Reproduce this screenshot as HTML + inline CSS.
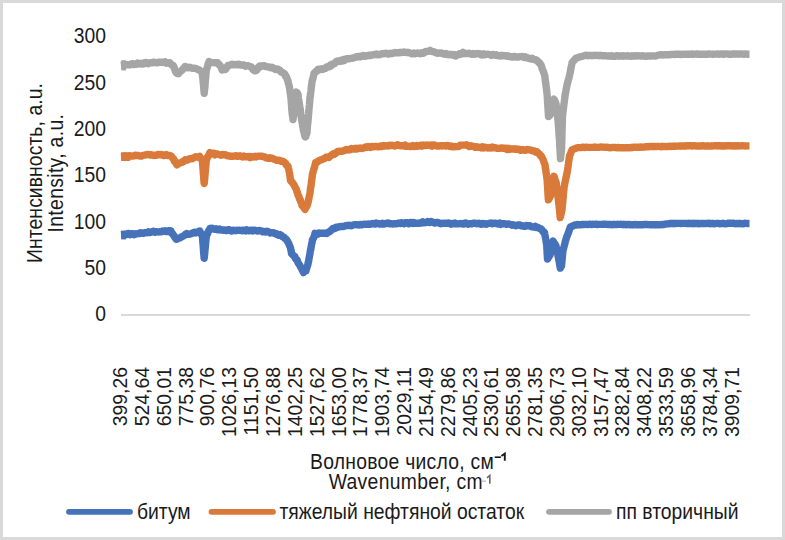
<!DOCTYPE html>
<html><head><meta charset="utf-8"><style>
html,body{margin:0;padding:0;background:#fff;}
body{width:785px;height:540px;overflow:hidden;position:relative;}
svg{position:absolute;left:0;top:0;}
text{font-family:"Liberation Sans",sans-serif;font-size:19.33px;fill:#1a1a1a;}
</style></head><body>
<svg width="785" height="540" viewBox="0 0 785 540">
<rect x="1.5" y="1.5" width="782" height="537" fill="#fff" stroke="#d9d9d9" stroke-width="3"/>
<line x1="121" y1="315" x2="750" y2="315" stroke="#d9d9d9" stroke-width="2"/>
<text transform="translate(106,43.20) scale(1,1.12)" text-anchor="end">300</text>
<text transform="translate(106,89.53) scale(1,1.12)" text-anchor="end">250</text>
<text transform="translate(106,135.86) scale(1,1.12)" text-anchor="end">200</text>
<text transform="translate(106,182.19) scale(1,1.12)" text-anchor="end">150</text>
<text transform="translate(106,228.52) scale(1,1.12)" text-anchor="end">100</text>
<text transform="translate(106,274.85) scale(1,1.12)" text-anchor="end">50</text>
<text transform="translate(106,321.18) scale(1,1.12)" text-anchor="end">0</text>
<text transform="translate(127.10,367) rotate(-90) scale(1,1.0)" text-anchor="end">399,26</text>
<text transform="translate(148.94,367) rotate(-90) scale(1,1.0)" text-anchor="end">524,64</text>
<text transform="translate(170.78,367) rotate(-90) scale(1,1.0)" text-anchor="end">650,01</text>
<text transform="translate(192.62,367) rotate(-90) scale(1,1.0)" text-anchor="end">775,38</text>
<text transform="translate(214.46,367) rotate(-90) scale(1,1.0)" text-anchor="end">900,76</text>
<text transform="translate(236.30,367) rotate(-90) scale(1,1.0)" text-anchor="end">1026,13</text>
<text transform="translate(258.14,367) rotate(-90) scale(1,1.0)" text-anchor="end">1151,50</text>
<text transform="translate(279.98,367) rotate(-90) scale(1,1.0)" text-anchor="end">1276,88</text>
<text transform="translate(301.82,367) rotate(-90) scale(1,1.0)" text-anchor="end">1402,25</text>
<text transform="translate(323.66,367) rotate(-90) scale(1,1.0)" text-anchor="end">1527,62</text>
<text transform="translate(345.50,367) rotate(-90) scale(1,1.0)" text-anchor="end">1653,00</text>
<text transform="translate(367.34,367) rotate(-90) scale(1,1.0)" text-anchor="end">1778,37</text>
<text transform="translate(389.18,367) rotate(-90) scale(1,1.0)" text-anchor="end">1903,74</text>
<text transform="translate(411.02,367) rotate(-90) scale(1,1.0)" text-anchor="end">2029,11</text>
<text transform="translate(432.86,367) rotate(-90) scale(1,1.0)" text-anchor="end">2154,49</text>
<text transform="translate(454.70,367) rotate(-90) scale(1,1.0)" text-anchor="end">2279,86</text>
<text transform="translate(476.54,367) rotate(-90) scale(1,1.0)" text-anchor="end">2405,23</text>
<text transform="translate(498.38,367) rotate(-90) scale(1,1.0)" text-anchor="end">2530,61</text>
<text transform="translate(520.22,367) rotate(-90) scale(1,1.0)" text-anchor="end">2655,98</text>
<text transform="translate(542.06,367) rotate(-90) scale(1,1.0)" text-anchor="end">2781,35</text>
<text transform="translate(563.90,367) rotate(-90) scale(1,1.0)" text-anchor="end">2906,73</text>
<text transform="translate(585.74,367) rotate(-90) scale(1,1.0)" text-anchor="end">3032,10</text>
<text transform="translate(607.58,367) rotate(-90) scale(1,1.0)" text-anchor="end">3157,47</text>
<text transform="translate(629.42,367) rotate(-90) scale(1,1.0)" text-anchor="end">3282,84</text>
<text transform="translate(651.26,367) rotate(-90) scale(1,1.0)" text-anchor="end">3408,22</text>
<text transform="translate(673.10,367) rotate(-90) scale(1,1.0)" text-anchor="end">3533,59</text>
<text transform="translate(694.94,367) rotate(-90) scale(1,1.0)" text-anchor="end">3658,96</text>
<text transform="translate(716.78,367) rotate(-90) scale(1,1.0)" text-anchor="end">3784,34</text>
<text transform="translate(738.62,367) rotate(-90) scale(1,1.0)" text-anchor="end">3909,71</text>
<text transform="translate(41.6,262.9) rotate(-90) scale(1,1.12)" textLength="179.8" lengthAdjust="spacing">Интенсивность, a.u.</text>
<text transform="translate(63,232.5) rotate(-90) scale(1,1.12)" textLength="118.4" lengthAdjust="spacing">Intensity, a.u.</text>
<text transform="translate(310,468.8) scale(1,1.12)" textLength="183.8" lengthAdjust="spacing">Волновое число, см</text>
<path d="M501.4,456 L504.8,453.6 L504.8,460.8" fill="none" stroke="#1a1a1a" stroke-width="1.9" stroke-linejoin="miter"/>
<rect x="494.7" y="456.4" width="6.2" height="1.6" fill="#1a1a1a"/>
<text transform="translate(328.7,489) scale(1,1.12)" textLength="153.9" lengthAdjust="spacing">Wavenumber, cm</text>
<path d="M487,477.8 L489.8,475.4 L489.8,483.8" fill="none" stroke="#6a6a6a" stroke-width="1.6" stroke-linejoin="miter"/>
<rect x="481.8" y="480.6" width="4.3" height="1" fill="#aaa"/>
<text transform="translate(137,519.2) scale(1,1.12)">битум</text>
<text transform="translate(279.5,519.2) scale(1,1.12)">тяжелый нефтяной остаток</text>
<text transform="translate(616,519.2) scale(1,1.12)">пп вторичный</text>
<polyline points="121.0,65.4 122.2,65.2 123.5,65.1 124.8,64.6 126.0,64.8 127.3,64.6 128.7,64.8 130.0,64.9 131.3,63.8 132.7,63.6 134.0,64.6 135.2,63.9 136.4,64.3 137.6,63.1 138.8,63.7 140.0,64.0 141.2,63.2 142.4,64.1 143.6,63.9 144.8,62.6 146.0,62.5 147.2,63.2 148.5,63.7 149.8,62.9 151.0,62.6 152.2,62.8 153.5,62.2 154.8,62.5 156.0,62.7 157.3,62.8 158.6,62.3 159.9,62.3 161.1,62.2 162.4,62.5 163.7,62.2 165.0,61.8 166.2,63.2 167.4,62.9 168.6,63.2 169.8,62.8 171.0,64.1 172.0,65.1 173.0,65.3 174.0,66.8 174.5,68.7 175.0,70.0 175.5,71.7 176.0,72.4 177.2,73.5 178.5,73.7 179.3,72.2 180.2,71.6 181.0,71.0 182.0,70.2 183.0,68.9 184.0,68.1 185.0,66.5 186.2,67.0 187.4,67.9 188.6,67.5 189.9,67.3 191.1,67.9 192.3,68.3 193.5,68.3 194.9,68.3 196.2,68.7 197.6,69.2 199.0,69.9 199.8,70.4 200.7,71.1 201.5,72.1 202.3,72.3 202.4,73.6 202.5,75.7 202.7,77.3 202.8,77.9 202.9,78.9 203.0,79.7 203.1,81.4 203.3,83.3 203.4,84.2 203.5,85.1 203.6,86.7 203.7,87.1 203.8,88.7 203.9,90.5 204.0,91.2 204.1,92.2 204.2,93.2 204.3,92.4 204.4,91.7 204.5,89.2 204.7,89.0 204.8,87.9 204.9,86.8 205.0,85.3 205.1,84.2 205.2,82.5 205.3,81.3 205.4,79.9 205.5,78.1 205.7,78.0 205.8,76.3 205.9,74.6 206.0,73.8 206.1,72.5 206.2,71.0 206.3,69.8 206.7,68.9 207.1,67.9 207.5,66.7 207.8,65.4 208.2,63.6 208.6,62.8 209.0,61.5 210.4,62.2 211.8,62.6 213.2,62.6 214.6,62.7 216.0,62.7 217.5,62.8 219.0,64.5 219.6,65.3 220.2,65.6 220.8,66.6 221.4,67.7 222.0,69.9 223.5,69.4 225.0,69.5 225.8,69.2 226.5,67.8 227.2,66.4 228.0,65.5 229.4,65.5 230.9,64.5 232.3,64.2 233.6,64.9 234.9,64.6 236.2,64.5 237.4,64.8 238.7,64.2 240.0,64.8 241.3,65.1 242.6,64.9 243.9,64.9 245.2,66.2 246.5,65.8 247.8,65.6 249.1,66.3 250.4,66.7 251.3,66.9 252.1,68.1 253.0,69.5 254.5,70.8 256.0,70.5 256.8,70.0 257.7,68.6 258.5,67.1 259.7,66.1 260.8,66.7 262.0,65.9 263.3,65.8 264.5,65.7 265.8,66.6 267.0,66.6 268.3,67.1 269.5,67.0 270.8,67.8 272.1,67.3 273.5,68.0 274.9,69.3 276.2,69.5 277.5,69.0 278.9,70.1 279.9,70.1 280.9,71.8 282.0,72.3 283.0,72.7 284.0,73.3 284.8,74.0 285.5,76.3 286.2,76.3 287.0,78.4 287.3,79.8 287.7,80.4 288.0,81.0 288.3,83.2 288.7,84.5 289.0,85.3 289.2,86.3 289.4,87.4 289.6,88.7 289.8,89.8 290.0,91.7 290.2,92.7 290.4,93.7 290.6,94.8 290.8,96.9 291.0,97.7 291.1,99.3 291.2,100.3 291.3,102.3 291.4,103.7 291.5,103.7 291.5,105.2 291.6,106.7 291.7,108.9 291.8,109.9 291.9,110.5 292.0,111.6 292.2,113.6 292.4,115.3 292.6,116.8 292.8,117.4 293.0,119.5 293.2,118.0 293.4,116.4 293.6,115.8 293.8,113.4 294.0,112.8 294.2,110.6 294.4,109.4 294.6,109.2 294.8,106.9 295.0,106.4 295.1,104.9 295.3,103.9 295.4,102.0 295.5,100.7 295.7,99.3 295.8,98.9 296.0,97.2 296.1,96.5 296.2,95.1 296.4,92.8 296.5,92.1 297.2,92.9 298.0,94.4 298.2,95.7 298.4,98.1 298.6,99.3 298.8,100.7 299.0,101.3 299.2,103.0 299.4,104.5 299.6,105.2 299.8,106.8 300.0,107.6 300.2,108.7 300.4,110.2 300.5,112.4 300.7,113.2 300.9,115.0 301.1,115.6 301.3,116.6 301.5,118.6 301.6,119.9 301.8,120.0 302.0,122.2 302.2,122.7 302.4,123.9 302.7,126.2 302.9,126.2 303.1,127.7 303.3,130.0 303.6,130.4 303.8,131.2 304.0,132.5 304.4,134.1 304.9,136.3 305.3,136.9 305.7,136.7 306.1,134.6 306.6,134.0 307.0,132.6 307.1,130.5 307.2,129.2 307.3,128.3 307.4,126.6 307.5,126.1 307.6,124.1 307.8,122.8 307.9,123.0 308.0,120.8 308.1,120.0 308.2,118.6 308.3,117.2 308.4,115.6 308.5,115.6 308.6,114.4 308.7,113.2 308.8,110.8 308.9,109.7 309.0,109.1 309.1,108.4 309.2,106.6 309.4,105.5 309.5,104.3 309.6,102.5 309.7,101.7 309.8,100.2 309.9,98.9 310.0,97.4 310.2,96.5 310.3,96.2 310.5,94.2 310.6,93.3 310.8,92.0 310.9,91.2 311.1,89.2 311.2,87.9 311.4,86.7 311.5,85.4 311.7,84.9 311.8,83.8 312.0,81.7 312.3,80.4 312.7,79.4 313.0,78.1 313.3,76.8 313.7,75.0 314.0,73.3 315.0,72.6 316.0,71.4 317.0,71.1 318.0,69.4 319.2,69.1 320.4,69.6 321.6,68.8 322.8,69.2 324.0,68.5 325.2,68.5 326.5,67.0 327.8,67.0 329.0,66.9 330.1,65.2 331.1,65.8 332.2,64.0 333.2,64.1 334.3,63.8 335.3,62.8 336.4,61.4 337.6,60.9 338.8,61.2 339.9,61.5 341.1,60.3 342.3,60.9 343.4,59.5 344.6,60.3 345.8,58.8 347.4,58.6 349.0,58.8 350.2,58.4 351.4,58.4 352.6,58.1 353.8,57.8 355.0,57.5 356.2,56.6 357.5,56.8 358.7,56.3 359.9,56.9 361.1,56.6 362.3,55.8 363.5,55.4 365.0,56.4 366.5,56.0 368.0,55.4 369.2,55.3 370.4,55.6 371.7,55.0 372.9,54.8 374.1,54.6 375.3,54.4 376.6,54.0 377.8,54.8 379.0,54.4 380.3,54.5 381.7,53.6 383.0,53.9 384.3,53.5 385.7,53.3 387.0,53.4 388.4,54.1 389.8,53.4 391.2,53.3 392.6,53.5 394.0,52.8 395.2,52.4 396.5,52.9 397.7,52.7 398.9,52.8 400.1,52.3 401.4,52.5 402.6,52.4 403.9,51.9 405.2,52.4 406.4,52.5 407.7,52.3 409.0,52.7 410.3,53.0 411.5,53.7 412.8,53.8 414.1,53.1 415.3,53.8 416.6,53.1 417.9,53.0 419.2,53.4 420.4,53.8 421.7,52.7 423.0,53.4 424.3,52.9 425.5,51.5 426.8,51.4 428.4,51.3 430.0,50.3 431.2,51.1 432.5,51.6 433.8,51.7 435.0,52.4 436.2,52.9 437.5,53.3 438.8,53.1 440.0,52.9 441.2,53.2 442.4,53.3 443.6,53.9 444.8,54.3 446.0,53.5 447.2,54.5 448.4,54.7 449.6,54.4 450.8,54.7 452.0,54.4 453.2,55.3 454.4,54.5 455.6,56.0 456.8,55.3 458.1,54.7 459.3,53.8 460.5,54.3 461.8,53.9 463.0,52.4 464.3,53.4 465.6,53.6 466.9,53.4 468.2,53.6 469.5,53.3 470.8,54.1 472.0,54.3 473.3,53.5 474.6,54.2 475.9,53.8 477.2,53.5 478.5,53.9 479.8,53.7 481.1,54.9 482.4,55.0 483.7,53.9 485.0,54.7 486.2,54.5 487.5,54.2 488.8,54.5 490.1,54.6 491.4,55.4 492.7,54.4 494.0,54.8 495.2,55.2 496.5,54.7 497.8,55.6 499.0,55.7 500.2,56.1 501.5,55.3 502.8,55.5 504.0,55.9 505.2,55.6 506.5,56.2 507.8,55.8 509.0,56.5 510.2,56.7 511.5,56.8 512.8,57.1 514.0,56.5 515.2,56.5 516.5,57.1 517.8,57.0 519.0,56.8 520.2,56.6 521.5,56.6 522.8,56.4 524.0,57.4 525.2,56.7 526.4,57.7 527.6,57.7 528.8,58.5 530.0,58.4 531.2,59.1 532.3,58.3 533.5,59.3 534.7,59.8 535.8,59.8 537.0,60.5 537.8,61.2 538.6,62.3 539.4,62.5 540.2,64.0 541.0,64.9 541.4,65.9 541.8,67.2 542.2,68.9 542.7,69.9 543.1,70.8 543.5,72.2 544.0,73.5 544.6,75.0 544.8,75.9 545.0,77.5 545.1,79.0 545.3,80.4 545.5,81.6 545.6,82.6 545.8,84.0 546.0,85.0 546.1,86.5 546.3,87.6 546.5,89.1 546.6,90.6 546.8,91.6 546.9,92.9 547.1,94.4 547.2,95.7 547.3,96.9 547.4,97.9 547.4,99.3 547.5,100.6 547.6,101.8 547.7,103.3 547.8,104.4 547.8,105.7 547.9,107.0 548.0,108.1 548.1,109.2 548.1,110.5 548.2,111.7 548.3,112.9 548.4,114.1 548.4,115.2 548.5,116.6 550.0,115.1 550.2,114.0 550.5,112.6 550.8,111.4 551.0,110.1 551.2,108.9 551.5,107.6 551.8,106.2 552.0,104.9 552.4,103.9 552.8,102.8 553.2,101.4 553.6,100.0 554.0,99.2 554.5,100.2 555.0,101.5 555.5,102.5 556.0,104.0 556.2,105.4 556.3,106.4 556.5,107.6 556.6,109.0 556.8,109.9 556.9,111.4 557.1,112.8 557.2,113.9 557.4,115.0 557.5,116.4 557.7,117.6 557.8,118.6 558.0,119.9 558.1,121.4 558.2,122.4 558.3,123.5 558.4,125.2 558.5,126.3 558.6,127.4 558.7,128.8 558.8,130.1 558.8,131.1 558.9,132.6 559.0,133.9 559.1,135.2 559.2,136.1 559.3,137.6 559.4,138.6 559.5,140.0 559.6,141.1 559.6,142.6 559.7,143.9 559.8,144.8 559.8,146.0 559.9,147.6 560.0,148.7 560.0,150.0 560.1,150.9 560.2,152.5 560.2,153.6 560.3,154.7 560.4,156.0 560.4,157.4 560.5,158.6 560.6,157.1 560.8,156.1 560.9,154.7 561.1,153.9 561.2,152.4 561.4,151.4 561.5,150.1 561.5,148.8 561.6,147.5 561.6,146.4 561.6,145.0 561.7,143.8 561.7,142.8 561.8,141.4 561.8,140.4 561.8,138.9 561.9,138.0 561.9,136.7 561.9,135.3 562.0,134.0 562.0,132.9 562.0,131.8 562.1,130.4 562.1,129.2 562.1,127.9 562.2,127.0 562.2,125.9 562.2,124.4 562.3,123.1 562.3,122.2 562.4,121.0 562.4,119.9 562.4,118.5 562.5,117.1 562.5,116.2 562.6,114.6 562.8,113.7 562.9,112.2 563.1,111.2 563.2,110.0 563.4,108.8 563.5,107.5 563.7,106.3 563.8,105.4 564.0,104.0 564.1,102.9 564.3,101.5 564.4,100.6 564.6,99.2 564.7,98.1 564.9,97.1 565.0,95.9 565.2,94.3 565.4,93.5 565.7,92.3 565.9,90.9 566.1,89.7 566.3,88.6 566.6,87.6 566.8,86.1 567.0,85.2 567.3,83.9 567.6,82.4 568.0,81.6 568.3,80.0 568.6,78.8 569.0,77.9 569.3,76.4 569.6,75.3 569.8,74.0 570.1,72.9 570.3,71.8 570.6,70.6 570.8,69.0 571.0,67.7 571.3,66.9 571.5,65.3 571.8,64.1 572.0,62.8 572.8,61.8 573.6,60.8 574.4,60.1 575.2,59.1 576.0,58.1 577.3,57.8 578.6,57.4 579.9,56.9 581.1,56.6 582.4,56.4 583.7,55.9 585.0,55.4 586.2,55.3 587.5,55.7 588.8,55.5 590.0,55.4 591.2,55.6 592.5,55.5 593.8,55.5 595.0,55.3 596.2,55.4 597.5,55.5 598.8,55.4 600.0,55.7 601.3,55.5 602.6,55.7 603.9,55.8 605.2,55.8 606.5,55.9 607.8,56.0 609.1,55.8 610.4,56.2 611.7,55.8 612.9,56.2 614.1,56.2 615.3,56.2 616.5,55.8 617.7,55.8 618.9,56.2 620.1,56.0 621.3,55.9 622.5,56.2 623.7,55.8 624.9,56.0 626.1,56.0 627.3,55.8 628.5,55.9 629.7,56.1 630.9,56.2 632.1,55.8 633.4,56.0 634.6,55.8 635.8,56.1 637.0,55.8 638.2,55.8 639.4,55.9 640.6,56.1 641.8,55.9 643.0,55.8 644.2,56.1 645.4,56.2 646.6,56.2 647.8,55.9 649.0,56.0 650.2,55.9 651.4,56.0 652.6,55.9 653.8,55.9 655.0,56.1 656.2,55.9 657.5,55.4 658.8,54.9 660.0,54.9 661.2,54.7 662.5,55.0 663.7,54.8 664.9,54.9 666.1,54.8 667.4,54.7 668.6,54.8 669.8,54.7 671.0,54.5 672.3,54.4 673.5,54.4 674.7,54.5 676.0,54.2 677.2,54.3 678.4,54.4 679.6,54.1 680.9,54.5 682.1,54.4 683.3,54.2 684.5,54.2 685.8,54.2 687.0,54.1 688.2,54.3 689.4,54.2 690.7,54.2 691.9,54.0 693.1,54.4 694.3,54.1 695.6,54.1 696.8,53.9 698.0,54.4 699.2,54.1 700.4,54.3 701.7,54.3 702.9,54.3 704.1,54.3 705.3,54.3 706.6,54.3 707.8,54.2 709.0,53.9 710.2,54.1 711.4,54.1 712.7,54.3 713.9,54.2 715.1,54.1 716.3,54.1 717.6,53.9 718.8,54.2 720.0,54.1 721.2,54.0 722.5,54.0 723.7,54.3 724.9,54.0 726.1,53.9 727.4,53.9 728.6,54.2 729.8,54.1 731.1,54.3 732.3,53.9 733.5,54.0 734.8,54.2 736.0,53.9 737.2,53.9 738.4,54.1 739.7,54.0 740.9,53.9 742.1,54.0 743.4,54.2 744.6,54.2 745.8,54.0 747.0,54.2 748.3,54.2 749.5,54.2" fill="none" stroke="#a5a5a5" stroke-width="7.4" stroke-linejoin="round"/>
<polyline points="121.0,156.9 122.3,156.8 123.6,156.7 124.9,156.0 126.2,156.9 127.5,156.6 128.8,156.4 130.1,155.8 131.4,156.1 132.7,156.0 134.0,155.8 135.3,155.2 136.6,155.5 137.9,155.4 139.2,155.8 140.5,156.1 141.8,156.0 143.1,155.3 144.4,155.1 145.7,154.8 147.0,154.5 148.3,154.4 149.6,155.1 150.9,154.8 152.2,154.9 153.5,155.6 154.8,155.1 156.1,155.2 157.4,154.7 158.7,154.4 160.0,154.9 161.2,154.5 162.5,155.0 163.8,155.6 165.0,155.1 166.2,154.5 167.4,155.6 168.6,155.6 169.8,155.5 171.0,155.9 171.8,156.9 172.7,158.2 173.5,158.8 174.2,160.8 174.9,161.8 175.6,161.8 176.3,163.8 177.0,164.8 178.5,163.7 180.0,163.0 181.1,162.4 182.2,162.4 183.2,161.1 184.3,161.0 185.4,159.7 186.7,160.1 187.9,159.8 189.2,158.8 190.5,158.6 191.8,158.8 193.1,158.2 194.3,157.5 195.6,156.8 197.0,156.9 198.3,157.3 199.7,156.4 200.6,158.5 201.4,158.6 202.3,160.6 202.4,161.0 202.5,163.1 202.6,164.0 202.7,165.0 202.8,166.3 202.9,167.7 203.0,168.9 203.1,169.7 203.2,170.8 203.3,172.5 203.4,174.4 203.5,175.2 203.6,175.7 203.7,178.0 203.8,179.2 203.9,180.7 204.0,181.0 204.1,183.1 204.2,183.4 204.3,182.9 204.4,181.1 204.5,179.8 204.7,179.4 204.8,177.0 204.9,176.3 205.0,175.5 205.1,173.4 205.2,172.1 205.3,171.8 205.4,169.9 205.5,169.1 205.7,166.8 205.8,166.1 205.9,164.5 206.0,164.0 206.1,161.9 206.2,161.9 206.3,159.3 206.9,159.2 207.5,157.0 208.1,156.2 208.7,155.8 209.3,153.7 209.9,152.6 211.1,153.5 212.3,153.4 213.6,153.2 214.8,154.8 216.0,153.9 217.3,153.9 218.5,154.4 219.8,154.9 221.1,155.2 222.4,154.4 223.6,154.9 224.9,154.6 226.2,155.3 227.5,155.8 228.7,155.9 230.0,156.3 231.2,156.1 232.5,156.4 233.8,156.2 235.0,156.0 236.2,155.7 237.5,156.4 238.8,156.0 240.0,155.8 241.2,156.4 242.5,157.0 243.8,156.1 245.0,156.8 246.2,156.6 247.5,156.9 248.8,156.4 250.0,157.6 251.2,156.6 252.5,157.1 253.7,156.8 254.9,156.2 256.1,156.9 257.4,156.3 258.6,156.1 259.8,156.1 261.0,156.2 262.3,156.1 263.5,156.8 264.8,156.9 266.0,157.8 267.3,158.1 268.6,158.4 269.9,157.7 271.1,158.2 272.4,158.3 273.7,159.1 274.9,159.5 276.2,160.1 277.5,160.4 278.7,160.1 280.0,160.7 281.2,161.4 282.5,161.2 283.8,161.8 285.0,162.9 285.8,163.5 286.5,165.3 287.2,165.6 288.0,166.4 288.3,167.8 288.6,169.0 288.9,170.2 289.2,171.8 289.5,173.0 289.7,174.1 289.9,176.0 290.1,176.8 290.3,179.2 290.5,180.6 291.3,181.5 292.2,182.2 293.0,183.5 293.6,184.7 294.2,185.1 294.8,186.7 295.4,187.9 296.0,188.6 296.4,189.6 296.9,191.7 297.3,192.2 297.7,193.6 298.1,195.3 298.6,196.0 299.0,196.7 299.4,198.8 299.9,199.1 300.3,199.8 300.7,201.8 301.1,202.2 301.6,203.6 302.0,205.5 302.8,206.4 303.5,206.6 304.2,208.3 305.0,209.4 305.6,208.4 306.2,206.8 306.9,206.2 307.5,204.4 307.8,203.5 308.0,202.4 308.2,202.0 308.5,199.6 308.8,199.4 309.0,197.4 309.2,196.7 309.5,195.2 309.8,194.1 310.0,193.4 310.2,191.6 310.3,189.9 310.5,188.7 310.7,187.3 310.8,187.2 311.0,185.6 311.2,184.8 311.3,183.1 311.5,180.9 311.7,180.6 311.8,179.5 312.0,178.1 312.2,176.5 312.3,175.1 312.5,173.9 312.8,173.2 313.2,171.2 313.5,170.4 313.8,169.1 314.2,168.5 314.5,167.1 314.8,166.0 315.2,164.7 315.5,162.7 316.6,162.0 317.7,161.7 318.8,160.7 319.8,160.2 320.9,159.9 322.0,159.6 323.3,158.7 324.7,158.6 326.0,157.2 327.3,157.1 328.7,157.6 330.0,156.0 331.1,155.7 332.1,154.5 333.2,153.8 334.3,154.3 335.3,153.7 336.4,152.5 337.7,151.5 338.9,151.4 340.2,151.1 341.4,151.4 342.7,151.1 344.0,150.5 345.2,150.3 346.5,149.4 347.7,149.7 349.0,150.0 350.3,149.6 351.5,148.5 352.8,149.0 354.1,149.1 355.3,148.3 356.6,149.1 357.9,148.3 359.1,148.5 360.4,147.9 361.7,148.6 362.9,148.2 364.2,147.7 365.5,147.0 366.7,147.3 368.0,146.5 369.3,147.2 370.5,147.5 371.8,146.4 373.1,146.8 374.3,146.6 375.6,146.4 376.9,146.7 378.1,146.9 379.4,146.5 380.7,146.0 381.9,146.6 383.2,145.6 384.5,146.1 385.7,145.8 387.0,145.9 388.3,146.0 389.6,145.1 390.9,145.6 392.2,145.3 393.5,145.6 394.8,146.0 396.1,145.5 397.4,144.7 398.7,145.3 400.0,145.6 401.3,145.9 402.6,145.7 403.8,146.0 405.1,145.0 406.4,146.4 407.7,146.2 409.0,146.1 410.2,146.6 411.5,146.6 412.8,145.6 414.1,146.6 415.3,146.4 416.6,145.5 417.9,146.2 419.2,145.9 420.4,145.3 421.7,146.1 423.0,145.0 424.3,145.6 425.5,145.3 426.8,145.0 428.1,145.4 429.3,145.3 430.6,145.0 431.9,146.1 433.1,144.9 434.4,144.9 435.7,145.6 436.9,146.1 438.2,145.9 439.5,146.1 440.7,145.7 442.0,146.0 443.3,145.6 444.6,145.6 445.9,146.0 447.2,145.5 448.5,145.6 449.8,146.6 451.1,145.9 452.4,146.8 453.7,146.9 455.0,146.5 456.3,146.6 457.6,146.6 458.9,146.5 460.1,145.2 461.4,145.1 462.7,145.1 464.0,145.1 465.2,145.0 466.5,144.8 467.8,145.7 469.0,146.5 470.2,145.8 471.5,146.3 472.8,146.2 474.0,146.5 475.2,147.3 476.5,146.7 477.8,147.3 479.0,147.3 480.2,147.4 481.4,148.0 482.6,146.8 483.9,147.9 485.1,147.2 486.3,147.7 487.5,148.0 488.7,147.8 489.9,147.5 491.1,148.1 492.4,147.1 493.6,147.9 494.8,147.6 496.0,147.8 497.2,148.4 498.4,148.4 499.6,148.3 500.9,148.0 502.1,148.0 503.3,148.4 504.5,148.2 505.7,148.3 506.9,149.4 508.1,148.3 509.4,149.4 510.6,148.9 511.8,149.0 513.0,149.0 514.2,148.8 515.4,149.3 516.6,149.0 517.8,149.4 519.0,149.3 520.2,150.2 521.4,150.2 522.6,149.6 523.8,149.9 525.0,150.4 526.4,149.7 527.8,149.5 529.2,149.9 530.6,149.9 532.0,150.7 533.2,150.7 534.4,151.1 535.6,152.1 536.8,151.7 538.0,152.9 538.8,153.6 539.6,154.2 540.4,155.7 541.2,155.9 542.0,157.5 542.6,158.9 543.1,159.6 543.7,161.2 544.2,162.9 544.8,163.9 545.0,165.2 545.2,166.2 545.3,167.5 545.5,168.6 545.7,169.9 545.9,170.8 546.0,172.2 546.2,173.4 546.4,174.5 546.6,175.7 546.7,176.8 546.9,178.4 547.1,179.3 547.2,180.6 547.3,182.0 547.3,182.9 547.4,184.5 547.5,185.3 547.6,186.4 547.6,187.8 547.7,189.0 547.8,190.5 547.9,191.7 547.9,192.9 548.0,193.9 548.1,195.2 548.2,196.2 548.2,197.7 548.3,198.7 548.4,199.9 549.1,198.7 549.8,197.2 550.5,195.9 550.7,194.9 550.9,193.2 551.1,191.9 551.3,190.7 551.5,189.4 551.7,188.2 551.9,186.8 552.1,185.5 552.3,184.2 552.5,182.9 552.8,181.8 553.1,180.3 553.4,179.0 553.7,177.9 554.0,176.3 554.5,177.7 555.0,179.4 555.5,180.6 556.0,182.1 556.2,183.1 556.4,184.6 556.5,186.0 556.7,187.0 556.9,188.5 557.1,189.7 557.3,190.9 557.5,192.4 557.6,193.4 557.8,194.7 558.0,196.1 558.1,197.2 558.3,198.7 558.4,199.9 558.5,201.1 558.7,202.4 558.8,203.9 559.0,205.1 559.1,206.3 559.2,207.4 559.4,208.7 559.5,210.0 559.6,211.0 559.7,212.3 559.9,214.0 560.0,214.8 560.1,216.5 560.2,217.6 560.5,216.5 560.8,214.8 561.1,213.7 561.4,212.6 561.7,211.0 562.0,209.8 562.1,208.7 562.2,207.4 562.3,206.2 562.4,205.2 562.6,203.7 562.7,203.0 562.8,201.6 562.9,200.1 563.0,199.3 563.1,197.8 563.2,196.7 563.3,195.5 563.4,194.1 563.5,193.1 563.7,191.6 563.8,190.5 563.9,189.6 564.0,188.4 564.1,187.0 564.3,185.9 564.6,184.8 564.8,183.2 565.1,182.2 565.3,180.9 565.6,179.7 565.8,178.5 566.1,177.3 566.3,176.1 566.6,174.9 566.8,173.8 567.1,172.8 567.3,171.7 567.5,170.5 567.7,169.2 567.8,167.9 568.0,166.8 568.2,165.3 568.4,164.0 568.5,163.1 568.7,161.8 568.9,160.4 569.1,159.3 569.2,158.0 569.4,156.9 569.6,155.7 570.1,154.5 570.6,153.6 571.0,152.4 571.5,151.2 572.0,150.0 573.3,149.2 574.7,148.8 576.0,148.2 577.5,147.6 579.0,147.6 580.2,147.6 581.5,147.5 582.7,147.2 583.9,147.5 585.2,147.3 586.4,147.2 587.6,147.4 588.9,147.4 590.1,147.4 591.4,147.4 592.6,147.4 593.8,147.3 595.1,147.0 596.3,147.4 597.5,147.4 598.8,147.4 600.0,147.2 601.2,147.0 602.5,147.1 603.7,147.1 604.9,147.4 606.1,147.4 607.4,147.2 608.6,147.6 609.8,147.7 611.0,147.6 612.3,147.5 613.5,147.4 614.7,147.4 616.0,147.7 617.2,147.7 618.4,147.5 619.6,147.8 620.9,147.7 622.1,147.6 623.3,147.7 624.5,147.9 625.8,147.8 627.0,147.9 628.2,147.6 629.4,147.8 630.6,147.5 631.8,147.7 633.1,147.3 634.3,147.3 635.5,147.4 636.7,147.2 637.9,147.2 639.1,147.4 640.3,147.0 641.5,147.2 642.7,147.1 643.9,147.1 645.2,146.8 646.4,146.8 647.6,146.7 648.8,146.7 650.0,146.5 651.2,146.4 652.5,146.6 653.8,146.4 655.0,146.5 656.2,146.6 657.5,146.4 658.8,146.4 660.0,146.6 661.2,146.7 662.5,146.3 663.8,146.5 665.0,146.5 666.2,146.6 667.5,146.5 668.8,146.3 670.0,146.3 671.2,146.5 672.4,146.2 673.6,146.1 674.9,146.4 676.1,146.1 677.3,146.1 678.5,146.1 679.7,146.0 680.9,146.2 682.1,146.0 683.4,146.0 684.6,145.9 685.8,146.1 687.0,145.7 688.2,145.9 689.4,145.7 690.6,145.7 691.8,146.0 693.0,145.8 694.2,145.7 695.4,145.9 696.6,146.1 697.8,146.0 699.0,145.9 700.2,146.0 701.4,146.1 702.6,145.7 703.8,145.8 705.0,146.1 706.2,146.1 707.4,145.8 708.6,146.0 709.8,146.1 711.0,145.9 712.2,146.0 713.4,145.9 714.6,145.8 715.8,145.8 717.0,145.7 718.2,146.0 719.5,145.7 720.7,146.0 721.9,145.8 723.1,145.9 724.3,146.1 725.5,145.8 726.7,145.9 727.9,145.8 729.1,145.8 730.3,145.8 731.5,145.9 732.7,146.1 733.9,145.7 735.1,146.1 736.3,146.0 737.5,145.7 738.7,146.0 739.9,145.9 741.1,145.9 742.3,145.7 743.5,145.9 744.7,145.9 745.9,146.0 747.1,145.9 748.3,145.9 749.5,145.9" fill="none" stroke="#d97a3a" stroke-width="7.4" stroke-linejoin="round"/>
<polyline points="121.0,234.7 122.3,234.6 123.6,234.5 124.9,234.6 126.2,234.6 127.5,233.7 128.8,233.5 130.1,234.6 131.4,233.7 132.7,233.6 134.0,234.6 135.3,233.7 136.6,234.1 137.9,233.4 139.2,233.5 140.5,232.7 141.8,233.2 143.1,233.4 144.4,232.7 145.7,232.9 147.0,232.6 148.3,231.7 149.6,232.6 150.9,232.2 152.2,231.7 153.5,231.2 154.8,232.3 156.1,231.7 157.4,231.9 158.7,232.0 160.0,231.7 161.2,231.9 162.5,231.0 163.8,231.4 165.0,230.8 166.2,231.6 167.4,231.6 168.6,230.6 169.8,230.7 171.0,230.9 171.8,233.2 172.7,233.7 173.5,235.2 174.2,235.8 174.8,237.3 175.5,238.2 176.2,239.3 177.6,238.9 179.0,238.1 180.1,237.9 181.1,237.0 182.2,236.7 183.3,236.0 184.3,235.5 185.4,234.4 186.7,233.5 187.9,234.3 189.2,234.2 190.5,233.9 191.8,233.2 193.1,233.1 194.3,232.2 195.6,232.9 197.0,232.2 198.3,231.6 199.7,231.0 200.6,233.2 201.4,234.6 202.3,234.4 202.4,236.7 202.5,237.4 202.6,238.3 202.7,239.7 202.8,241.6 202.9,243.0 203.0,243.1 203.1,245.2 203.2,245.6 203.3,247.8 203.4,248.5 203.5,250.5 203.6,252.0 203.7,252.6 203.8,254.6 203.9,254.9 204.0,255.8 204.1,257.9 204.2,258.3 204.3,257.3 204.4,256.3 204.5,255.3 204.7,253.4 204.8,251.9 204.9,251.8 205.0,249.7 205.1,249.4 205.2,248.0 205.4,246.0 205.5,244.9 205.6,243.7 205.7,242.6 205.8,241.2 205.9,239.9 206.1,238.7 206.2,237.9 206.3,236.0 206.9,234.7 207.5,233.8 208.1,231.9 208.7,230.7 209.3,230.4 209.9,228.5 211.1,228.7 212.3,228.2 213.6,228.9 214.8,229.3 216.0,228.7 217.2,229.7 218.4,229.8 219.6,229.1 220.8,230.0 222.0,229.9 223.2,230.3 224.4,229.9 225.6,230.5 226.8,230.6 228.0,229.7 229.3,229.8 230.6,230.7 231.9,231.1 233.1,230.2 234.4,230.5 235.7,230.7 237.0,230.3 238.2,230.4 239.4,230.3 240.6,230.4 241.8,230.7 243.0,230.3 244.2,230.4 245.4,231.0 246.6,229.9 247.8,230.7 249.0,230.9 250.2,230.3 251.4,230.2 252.6,231.0 253.8,230.2 255.0,230.2 256.3,230.6 257.6,231.1 258.9,230.4 260.2,230.8 261.5,231.0 262.8,231.8 264.1,231.4 265.4,232.1 266.7,231.2 268.0,231.6 269.2,232.3 270.4,233.0 271.6,232.7 272.8,232.7 274.0,232.9 275.2,233.8 276.4,233.6 277.6,234.8 278.8,235.2 280.0,234.6 281.3,235.4 282.7,236.8 284.0,237.2 284.8,238.4 285.6,238.8 286.4,239.5 287.2,240.7 288.0,242.4 288.5,242.9 289.0,244.2 289.5,245.5 290.0,246.7 290.5,247.9 290.8,249.8 291.0,250.0 291.2,251.1 291.5,253.6 292.8,254.8 294.0,256.2 294.8,256.5 295.5,258.4 296.2,259.5 297.0,259.6 297.6,261.5 298.1,262.8 298.7,263.7 299.3,264.6 299.9,265.4 300.4,266.6 301.0,267.6 301.6,268.4 302.2,270.2 302.9,270.9 303.5,272.6 304.8,270.5 306.0,270.6 306.4,268.9 306.8,267.9 307.2,266.6 307.7,265.2 308.1,263.4 308.5,261.3 308.7,261.1 308.9,259.1 309.1,258.1 309.3,257.4 309.5,256.0 309.7,254.7 309.9,254.2 310.1,252.6 310.3,251.0 310.5,249.7 310.8,249.3 311.0,247.5 311.2,246.6 311.5,244.8 311.8,243.3 312.0,242.5 312.2,241.7 312.5,239.5 313.0,239.2 313.5,238.2 314.0,236.8 314.5,235.7 315.0,233.3 316.2,234.1 317.5,234.3 318.8,233.0 320.0,233.2 321.3,233.1 322.7,233.4 324.0,233.1 325.3,233.1 326.7,233.5 328.0,232.3 330.0,231.4 330.9,230.5 331.9,229.6 332.9,228.5 333.8,228.9 335.1,228.4 336.3,227.1 337.6,227.4 338.9,226.9 340.2,226.6 341.4,226.4 342.7,226.5 344.0,226.3 345.2,225.9 346.5,225.5 347.8,225.6 349.1,225.1 350.3,225.6 351.6,225.7 352.9,225.1 354.2,224.6 355.4,224.6 356.7,224.7 358.0,224.9 359.3,225.0 360.5,224.4 361.8,224.8 363.0,224.5 364.2,224.2 365.4,224.1 366.6,224.2 367.8,224.4 369.0,224.0 370.2,224.3 371.4,223.9 372.6,223.5 373.8,223.9 375.0,224.1 376.2,223.1 377.4,223.6 378.6,223.5 379.8,224.1 381.0,224.1 382.3,223.3 383.5,224.1 384.8,223.9 386.1,223.2 387.3,223.4 388.6,223.0 389.9,223.9 391.1,223.7 392.4,224.0 393.7,223.9 394.9,223.7 396.2,223.8 397.5,223.6 398.7,222.9 400.0,223.6 401.3,222.8 402.5,222.9 403.8,223.7 405.1,222.7 406.3,222.7 407.6,222.7 408.9,223.7 410.1,222.7 411.4,222.4 412.7,223.5 413.9,222.5 415.2,223.4 416.5,223.1 417.7,223.3 419.0,223.4 420.2,222.8 421.4,223.0 422.7,221.9 423.9,222.8 425.1,222.4 426.3,222.6 427.6,221.6 428.8,222.4 430.0,222.6 431.2,221.5 432.4,222.1 433.6,222.5 434.8,223.1 436.0,222.4 437.2,222.5 438.4,222.7 439.6,223.4 440.8,223.7 442.0,223.4 443.3,223.3 444.6,223.4 445.9,223.3 447.2,223.4 448.5,222.9 449.8,223.5 451.1,224.2 452.4,223.4 453.7,223.8 455.0,223.0 456.2,223.8 457.4,223.9 458.6,223.8 459.8,223.6 461.0,223.5 462.2,223.8 463.4,224.1 464.6,223.1 465.8,223.0 467.0,223.9 468.2,224.2 469.4,223.6 470.6,223.6 471.8,223.9 473.0,223.2 474.2,223.3 475.4,223.2 476.6,223.8 477.8,223.4 479.0,223.3 480.2,224.0 481.4,224.3 482.7,223.4 483.9,224.0 485.1,223.6 486.3,224.2 487.5,223.8 488.7,223.4 490.0,223.3 491.2,223.0 492.4,223.7 493.6,223.5 494.8,223.2 496.0,223.5 497.3,223.5 498.5,224.1 499.7,223.2 500.9,224.4 502.1,223.7 503.3,223.8 504.6,223.7 505.8,224.2 507.0,224.2 508.2,224.0 509.4,224.2 510.6,224.7 511.8,225.2 513.0,224.8 514.4,225.3 515.8,225.7 517.2,225.2 518.6,224.9 520.0,225.0 521.2,225.8 522.5,225.8 523.8,226.3 525.0,226.3 526.2,225.5 527.5,225.6 528.8,225.8 530.0,225.8 531.2,226.6 532.5,226.9 533.8,227.1 535.0,226.3 536.2,227.6 537.5,227.3 538.8,227.9 540.0,228.8 540.9,228.8 541.8,229.7 542.8,231.7 543.7,231.8 544.6,232.8 544.8,234.3 545.0,235.5 545.2,236.4 545.4,237.7 545.7,239.0 545.9,240.2 546.1,241.3 546.3,242.6 546.5,244.0 546.7,244.9 546.8,246.3 546.8,247.4 546.9,248.7 547.0,250.2 547.1,251.2 547.1,252.8 547.2,254.1 547.3,255.0 547.4,256.7 547.4,257.7 547.5,259.1 548.3,257.8 549.2,256.2 550.0,255.1 550.3,253.8 550.5,252.6 550.8,251.1 551.1,250.0 551.4,248.9 551.6,247.4 551.9,246.1 552.2,244.6 552.5,243.5 552.7,242.2 553.0,241.1 553.8,242.3 554.5,243.5 555.2,244.6 556.0,246.1 556.2,247.3 556.5,248.2 556.8,249.8 557.0,250.9 557.2,251.8 557.5,253.4 557.8,254.2 558.0,255.5 558.2,256.9 558.5,258.0 558.7,259.3 559.0,260.6 559.2,261.7 559.4,262.9 559.6,264.1 559.8,265.3 560.1,266.9 560.3,268.1 561.5,266.0 561.6,264.9 561.7,263.4 561.9,262.1 562.0,260.9 562.1,259.9 562.2,258.3 562.3,257.3 562.4,255.9 562.5,254.9 562.7,253.4 562.8,252.2 562.9,251.0 563.2,249.8 563.5,248.7 563.8,247.3 564.1,246.4 564.5,244.8 564.8,243.7 565.1,242.4 565.4,241.2 565.7,240.3 566.0,239.1 566.5,237.6 566.9,236.4 567.4,235.4 567.8,234.3 568.2,233.2 568.7,231.9 569.1,230.6 569.6,229.2 570.0,228.2 570.5,226.8 571.6,226.5 572.8,226.0 573.9,225.4 575.0,224.9 576.2,225.0 577.5,224.5 578.8,224.8 580.0,224.7 581.2,224.7 582.5,224.4 583.8,224.5 585.0,224.4 586.2,224.4 587.5,224.6 588.8,224.4 590.0,224.2 591.2,224.5 592.4,224.3 593.6,224.4 594.8,224.4 596.0,224.1 597.2,224.5 598.4,224.4 599.6,224.4 600.8,224.4 602.0,224.4 603.2,224.2 604.4,224.4 605.6,224.2 606.8,224.4 608.0,224.5 609.2,224.4 610.4,224.5 611.6,224.7 612.8,224.6 614.0,224.3 615.2,224.6 616.4,224.5 617.6,224.3 618.8,224.4 620.0,224.4 621.2,224.3 622.4,224.5 623.6,224.7 624.8,224.4 626.1,224.7 627.3,224.6 628.5,224.4 629.7,224.7 630.9,224.6 632.1,224.8 633.3,224.7 634.5,224.7 635.8,224.5 637.0,224.8 638.2,224.8 639.4,224.8 640.6,224.6 641.8,224.8 643.0,224.7 644.2,224.5 645.5,224.5 646.7,224.5 647.9,224.6 649.1,224.6 650.3,224.7 651.5,224.8 652.7,224.8 653.9,224.7 655.2,224.8 656.4,224.7 657.6,224.8 658.8,224.9 660.0,224.8 661.2,224.5 662.5,224.7 663.8,224.5 665.0,224.1 666.2,224.0 667.5,223.9 668.8,223.8 670.0,223.5 671.2,223.4 672.4,223.5 673.6,223.7 674.8,223.4 676.0,223.6 677.2,223.4 678.4,223.4 679.6,223.4 680.8,223.5 682.0,223.4 683.2,223.4 684.5,223.4 685.7,223.4 686.9,223.6 688.1,223.4 689.3,223.3 690.5,223.5 691.7,223.5 692.9,223.7 694.1,223.3 695.3,223.5 696.5,223.5 697.7,223.3 698.9,223.8 700.1,223.4 701.3,223.4 702.5,223.5 703.7,223.4 704.9,223.6 706.1,223.5 707.3,223.4 708.5,223.3 709.8,223.7 711.0,223.4 712.2,223.7 713.4,223.5 714.6,223.8 715.8,223.4 717.0,223.4 718.2,223.4 719.4,223.7 720.6,223.6 721.8,223.5 723.0,223.3 724.2,223.6 725.4,223.8 726.6,223.6 727.8,223.3 729.0,223.3 730.2,223.3 731.4,223.4 732.6,223.3 733.8,223.3 735.0,223.6 736.2,223.7 737.5,223.4 738.7,223.7 739.9,223.5 741.1,223.7 742.3,223.7 743.5,223.7 744.7,223.3 745.9,223.4 747.1,223.5 748.3,223.5 749.5,223.5" fill="none" stroke="#4672ba" stroke-width="7.4" stroke-linejoin="round"/>
<rect x="121.2" y="60.2" width="4.8" height="10.2" fill="#a5a5a5"/>
<rect x="121.2" y="152.2" width="9" height="8.8" fill="#d97a3a"/>
<rect x="121.2" y="230.6" width="4.8" height="8.8" fill="#4672ba"/>
<line x1="69" y1="511.8" x2="130" y2="511.8" stroke="#4672ba" stroke-width="5.8" stroke-linecap="round"/>
<line x1="211.5" y1="511.8" x2="273" y2="511.8" stroke="#d97a3a" stroke-width="5.8" stroke-linecap="round"/>
<line x1="549" y1="511.8" x2="609" y2="511.8" stroke="#a5a5a5" stroke-width="5.8" stroke-linecap="round"/>
</svg>
</body></html>
